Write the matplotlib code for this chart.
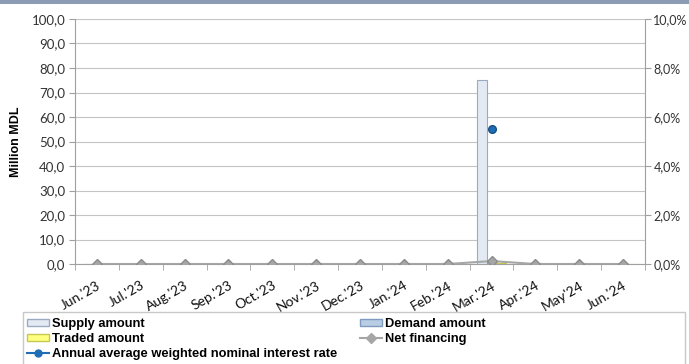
import numpy as np
import matplotlib.pyplot as plt
from matplotlib.patches import Rectangle, Patch
from matplotlib.lines import Line2D

months = ["Jun.'23", "Jul.'23", "Aug.'23", "Sep.'23", "Oct.'23", "Nov.'23", "Dec.'23",
          "Jan.'24", "Feb.'24", "Mar.'24", "Apr.'24", "May'24", "Jun.'24"]
supply = [0, 0, 0, 0, 0, 0, 0, 0, 0, 75.0, 0, 0, 0]
demand = [0, 0, 0, 0, 0, 0, 0, 0, 0, 1.0, 0, 0, 0]
traded = [0, 0, 0, 0, 0, 0, 0, 0, 0, 0.6, 0, 0, 0]
net_financing = [0, 0, 0, 0, 0, 0, 0, 0, 0, 1.2, 0, 0, 0]
# interest rate only exists where something was traded
rate = [np.nan] * 9 + [5.5] + [np.nan] * 3
left_ticks = np.arange(0, 101, 10)
right_ticks = np.arange(0, 11, 2)

W, H = 689, 364
fig = plt.figure(figsize=(W / 100, H / 100), dpi=100)
tick_font = ['Lato', 'DejaVu Sans']
leg_font = ['Liberation Sans Narrow', 'Liberation Sans', 'DejaVu Sans']

# thin banner at the very top
fig.patches.append(Rectangle((0, 1 - 4 / H), 1, 4 / H, transform=fig.transFigure,
                             facecolor='#8a9bb3', edgecolor='none'))

ax = fig.add_axes([75 / W, 1 - 264 / H, (645 - 75) / W, (264 - 19) / H])
x = np.arange(len(months))
bw = 0.22
ax.bar(x - 0.22, supply, bw, color='#e3eaf3', edgecolor='#9aaac0', linewidth=0.8, zorder=2)
ax.bar(x, demand, bw, color='#b9cde5', edgecolor='#7f9cc0', linewidth=0.8, zorder=2)
ax.bar(x + 0.22, traded, bw, color='#ffff80', edgecolor='#c8c850', linewidth=0.8, zorder=2)
ax.plot(x, net_financing, color='#a6a6a6', linewidth=1.5, marker='D', markersize=5.5,
        markerfacecolor='#a6a6a6', markeredgecolor='#8c8c8c', zorder=3)

ax.set_xlim(-0.5, len(months) - 0.5)
ax.set_ylim(0, 100)
ax.set_yticks(left_ticks)
ax.set_yticklabels([f"{v:.1f}".replace('.', ',') for v in left_ticks],
                   fontsize=9.5, family=tick_font, color='#333333')
ax.set_xticks(x)
ax.set_xticklabels(months, rotation=30, ha='right', rotation_mode='anchor',
                   fontsize=10, family=tick_font, color='#111111')
ax.set_xticks(np.arange(-0.5, len(months)), minor=True)
ax.tick_params(axis='x', which='major', length=0, pad=11)
ax.tick_params(axis='x', which='minor', length=4, color='#a0a0a0')
ax.tick_params(axis='y', length=4, color='#a0a0a0', pad=3)
ax.grid(axis='y', color='#c4c4c4', linewidth=0.8, zorder=0)
ax.set_axisbelow(True)
for side in ['top', 'right']:
    ax.spines[side].set_visible(False)
for side in ['left', 'bottom']:
    ax.spines[side].set_color('#a0a0a0')
ax.set_ylabel('Million MDL', fontsize=9, fontweight='bold', family=leg_font, labelpad=7)

ax2 = ax.twinx()
ax2.plot(x, rate, color='#1f6db5', linewidth=1.5, marker='o', markersize=5.5,
         markerfacecolor='#1f6db5', markeredgecolor='#174f85', zorder=4)
ax2.set_ylim(0, 10)
ax2.set_yticks(right_ticks)
ax2.set_yticklabels([f"{v:.1f}%".replace('.', ',') for v in right_ticks],
                    fontsize=9, family=tick_font, color='#333333')
ax2.tick_params(axis='y', length=4, color='#a0a0a0', pad=2)
for side in ['top', 'left', 'bottom']:
    ax2.spines[side].set_visible(False)
ax2.spines['right'].set_color('#a0a0a0')

# legend box below the plot
fig.patches.append(Rectangle((23 / W, -0.05), (685 - 23) / W, 0.05 + (H - 312) / H,
                             transform=fig.transFigure, facecolor='white',
                             edgecolor='#c8c8c8', linewidth=1))
handles = [
    Patch(facecolor='#e3eaf3', edgecolor='#9aaac0', label='Supply amount'),
    Patch(facecolor='#ffff80', edgecolor='#c8c850', label='Traded amount'),
    Line2D([], [], color='#1f6db5', marker='o', markersize=5, linewidth=1.5,
           label='Annual average weighted nominal interest rate'),
    Patch(facecolor='#b9cde5', edgecolor='#7f9cc0', label='Demand amount'),
    Line2D([], [], color='#a6a6a6', marker='D', markersize=5, linewidth=1.5,
           label='Net financing'),
]
fig.legend(handles=handles, ncol=2, loc='upper left', bbox_to_anchor=(26 / W, 1 - 317 / H),
           frameon=False, prop={'family': leg_font, 'weight': 'bold', 'size': 9.3},
           handlelength=1.7, handleheight=0.45, handletextpad=0.25, labelspacing=0.22,
           columnspacing=1.7, borderpad=0.1, borderaxespad=0)

fig.savefig('out.png', dpi=100)
